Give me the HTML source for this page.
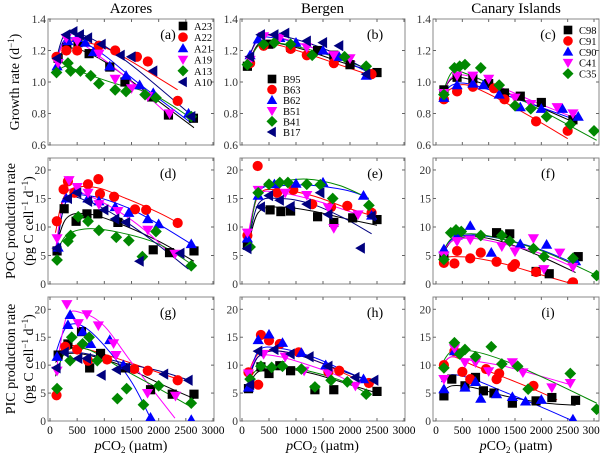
<!DOCTYPE html>
<html><head><meta charset="utf-8">
<style>
html,body{margin:0;padding:0;background:#fff;}
svg{display:block;font-family:"Liberation Serif","DejaVu Serif",serif;}
svg text{font-family:"Liberation Serif","DejaVu Serif",serif;}
</style></head>
<body>
<svg id="chart" width="600" height="457" viewBox="0 0 600 457" xmlns="http://www.w3.org/2000/svg" font-family="Liberation Serif, serif"></svg>
<script>
// ---- data ----
const colTitles = ["Azores","Bergen","Canary Islands"];
const panelLetters = ["(a)","(b)","(c)","(d)","(e)","(f)","(g)","(h)","(i)"];
const xTicks = [0,500,1000,1500,2000,2500,3000];
const yTicksGrowth = [0.6,0.8,1.0,1.2,1.4];
const yTickLabelsGrowth = ["0.6","0.8","1.0","1.2","1.4"];
const yTicksRate = [0,5,10,15,20];
const namesA = ["A23","A22","A21","A19","A13","A10"];
const namesB = ["B95","B63","B62","B51","B41","B17"];
const namesC = ["C98","C91","C90","C41","C35"];

// growth a
const aA23=[[150,1.15],[310,1.22],[515,1.25],[720,1.18],[1100,1.095],[1380,1.0],[1870,0.905],[2180,0.79],[2640,0.77]];
const aA22=[[120,1.16],[300,1.2],[500,1.2],[900,1.23],[1200,1.2],[1600,1.16],[1800,1.13],[2350,0.88]];
const aA21=[[130,1.1],[330,1.26],[500,1.28],[650,1.25],[800,1.19],[1100,1.1],[1400,1.04],[1650,0.98],[1900,0.93],[2550,0.8]];
const aA19=[[150,1.12],[300,1.28],[500,1.26],[900,1.18],[1200,1.02],[1500,0.96],[1800,0.91],[2200,0.8]];
const aA13=[[120,1.06],[330,1.12],[380,1.07],[560,1.07],[750,1.04],[900,0.99],[1200,0.95],[1400,0.94],[1750,0.92],[1950,0.9],[2600,0.78]];
const aA10=[[130,1.15],[300,1.3],[430,1.32],[550,1.3],[700,1.28],[950,1.24],[1300,1.17],[1500,1.16],[1900,1.07],[2600,0.78]];
// growth b
const bB95=[[100,1.1],[500,1.24],[900,1.22],[1400,1.2],[1700,1.17],[2000,1.11],[2500,1.06]];
const bB63=[[150,1.12],[400,1.23],[900,1.21],[1200,1.17],[1700,1.12],[2400,1.05]];
const bB62=[[150,1.17],[300,1.27],[700,1.28],[1000,1.25],[1500,1.2],[1800,1.16],[2300,1.04]];
const bB51=[[150,1.14],[400,1.29],[700,1.28],[1200,1.22],[1700,1.17],[2000,1.15]];
const bB41=[[100,1.11],[400,1.24],[600,1.25],[900,1.24],[1300,1.17],[1900,1.16],[2300,1.1]];
const bB17=[[150,1.16],[350,1.3],[600,1.3],[800,1.31],[1200,1.26],[1500,1.25],[1800,1.23],[2300,1.05]];
// growth c
const cC98=[[150,0.95],[400,1.03],[700,1.02],[1000,0.99],[1300,0.93],[1600,0.91],[2000,0.87],[2600,0.76]];
const cC91=[[150,0.89],[400,0.94],[700,0.97],[1100,0.96],[1300,0.89],[1900,0.75],[2500,0.69]];
const cC90=[[150,0.9],[400,0.98],[700,0.99],[900,0.98],[1200,0.92],[1600,0.84],[2000,0.83],[2400,0.83],[2700,0.78]];
const cC41=[[150,0.93],[400,1.04],[700,1.04],[1000,1.02],[1500,0.9],[1800,0.86],[2300,0.84],[2600,0.8]];
const cC35=[[150,0.92],[350,1.09],[450,1.1],[550,1.11],[850,1.09],[1200,0.98],[1500,0.85],[1800,0.83],[2100,0.78],[2550,0.73],[3000,0.69]];
// POC d
const dA23=[[130,5.8],[260,13.2],[480,11],[680,12.3],[880,12.3],[1250,10.8],[1900,6],[2200,5.5],[2650,5.8]];
const dA22=[[125,11],[250,16.6],[330,18],[450,16],[700,17.5],[890,18.4],[920,15.8],[1180,15.3],[1565,13.1],[1770,13],[2350,10.7]];
const dA21=[[150,6.4],[300,15],[500,16.5],[700,15],[900,14.5],[1200,13.5],[1450,12.5],[1800,11.4],[2000,10.5],[2600,7]];
const dA19=[[130,8],[350,18.2],[500,17],[700,16],[900,14],[1250,12.8],[1800,9.5],[2300,5.3]];
const dA13=[[130,4.2],[330,7.5],[380,8.5],[520,11.8],[700,11],[900,9.4],[1220,8.2],[1450,7.6],[1700,4.8],[1950,9.2],[2600,3.2]];
const dA10=[[130,6.3],[330,15],[500,16],[700,14.5],[1000,13],[1200,11.4],[1400,10.8],[1650,4],[2400,5.4]];
// POC e
const eB95=[[100,6.8],[520,13],[720,12.7],[900,12.8],[1400,11.8],[1700,10.8],[2050,11.6],[2500,11.3]];
const eB63=[[100,8.5],[290,20.7],[650,16],[950,16.5],[1300,14],[1650,13.5],[1950,13.7],[2400,12.5]];
const eB62=[[100,8],[300,15.5],[600,17.5],[1000,17.6],[1500,17.8],[2250,15.5],[2400,12]];
const eB51=[[100,9],[300,16.5],[800,16],[1200,15.6],[1600,13.4],[1700,9.8],[2150,12.2]];
const eB41=[[150,6.5],[300,16],[500,17.5],[700,17.8],[850,17.8],[1200,17.5],[1450,17.4],[1680,15],[2350,13.8]];
const eB17=[[100,6.2],[350,13.5],[500,15.5],[700,14.7],[900,13.6],[1200,14],[1450,16],[1600,12.2],[2200,6.3],[2400,11.9]];
// POC f
const fC98=[[150,4.5],[1150,9],[1400,8.8],[1900,2.2],[2150,1.8],[2700,4.8]];
const fC91=[[150,3.7],[400,5.8],[350,3.6],[650,4.5],[850,5.5],[1150,3.9],[1450,3],[1500,3.5],[1900,2.1],[2600,0.3]];
const fC90=[[150,6.1],[400,8.5],[650,10.2],[1050,5.5],[1600,7],[2100,6.9],[2650,4]];
const fC41=[[150,5],[400,7.5],[650,7.8],[1250,6.6],[1500,5.7],[1850,8],[2050,2.6],[2350,5.5],[2600,3]];
const fC35=[[150,4.3],[280,9],[380,9.5],[480,9.2],[850,8.5],[1250,8.5],[1400,7.5],[1850,6.2],[2050,4.8],[2600,4.5],[3050,1.5]];
// PIC g
const gA23=[[150,11.8],[330,13.8],[580,16],[730,9.5],[930,12.1],[1380,9.5],[1850,5.6],[2250,4.8],[2650,4.8]];
const gA22=[[120,4.6],[280,13.3],[500,12.8],[700,10.8],[1050,11],[1550,9.3],[1800,9],[2350,7.3]];
const gA21=[[130,11.5],[330,17.2],[370,19],[600,16],[750,13.8],[1100,14.5],[1350,10],[1850,0.6],[2600,0.2]];
const gA19=[[130,9],[310,20.9],[520,17.5],[680,19.1],[890,17.1],[1170,13.9],[1215,11.8],[1795,5],[2310,4.5]];
const gA13=[[130,5.8],[370,10.8],[400,15],[600,13.8],[720,15],[870,10.8],[1240,4],[1410,5.8],[1720,2.9],[2000,6.3],[2600,3.2]];
const gA10=[[120,9.5],[270,12.3],[520,11.2],[680,11.2],[950,8.2],[1230,9.2],[1400,9.5],[2100,8.4],[2550,7.3]];
// PIC h
const hB95=[[120,5.8],[350,9.7],[500,8.5],[700,9.9],[900,9],[1350,5.6],[1700,5.6],[2500,5.3]];
const hB63=[[120,8.7],[300,6.5],[350,15.4],[500,14.4],[700,13.8],[1050,12.3],[1600,8.8],[1800,9],[2350,6.8]];
const hB62=[[120,6],[300,14.5],[500,15.5],[750,14],[1100,12.2],[1550,10],[2250,7.5]];
const hB51=[[120,8.5],[400,12],[800,11.5],[1150,9],[1600,8.5],[2100,6.3]];
const hB41=[[150,7.5],[350,9.8],[550,9.6],[750,9.8],[1100,9.3],[1350,6.1],[1650,7.3],[1950,7],[2300,4.8]];
const hB17=[[150,6.5],[300,12.5],[600,12.8],[900,12],[1250,11.5],[1600,9.8],[2100,7.8],[2450,7.3]];
// PIC i
const iC98=[[150,4.5],[300,7.5],[550,6.3],[750,7.8],[900,5.4],[1100,5],[1450,3.2],[1900,3.6],[2200,4.2],[2650,3.7]];
const iC91=[[150,10],[350,12.5],[500,8.8],[650,7.5],[950,9.3],[1150,7.5],[1200,8.5],[1850,6.3]];
const iC90=[[150,5.7],[350,12.5],[550,6],[750,7],[850,4],[1150,4.8],[1450,4.3],[1700,3.5],[2000,3.8],[2600,0.3]];
const iC41=[[150,7.5],[350,13],[550,10.5],[750,10.5],[1000,8.9],[1450,10.5],[1650,8.7],[2200,6],[2550,6.8]];
const iC35=[[150,9.5],[350,14],[450,12],[550,12.8],[750,11.5],[1050,13.3],[1250,10.2],[1550,9.8],[1750,5.7],[2550,8.5],[3050,2.1]];

// fitted curves
const fitA=[[[100,1.1],[250,1.2],[500,1.21],[1000,1.13],[1600,0.98],[2650,0.71]],
 [[100,1.12],[250,1.24],[500,1.26],[1000,1.22],[1500,1.13],[2350,0.95]],
 [[100,1.1],[250,1.26],[500,1.27],[1000,1.17],[1600,1.0],[2600,0.74]],
 [[100,1.1],[250,1.25],[500,1.26],[1000,1.14],[1500,1.0],[2250,0.77]],
 [[100,1.06],[300,1.1],[600,1.06],[1200,0.99],[1900,0.92],[2600,0.77]],
 [[100,1.12],[250,1.29],[500,1.31],[1000,1.23],[1600,1.08],[2600,0.79]]];
const fitB=[[[100,1.1],[300,1.24],[600,1.25],[1200,1.2],[1800,1.13],[2500,1.06]],
 [[100,1.1],[300,1.23],[600,1.24],[1200,1.18],[1800,1.11],[2400,1.04]],
 [[100,1.13],[300,1.27],[600,1.28],[1200,1.23],[1800,1.15],[2350,1.06]],
 [[100,1.12],[300,1.28],[600,1.29],[1200,1.23],[1800,1.16],[2100,1.13]],
 [[100,1.1],[300,1.23],[600,1.25],[1200,1.21],[1800,1.15],[2350,1.08]],
 [[100,1.13],[300,1.28],[600,1.3],[1200,1.25],[1800,1.17],[2350,1.07]]];
const fitC=[[[100,0.92],[300,1.02],[600,1.02],[1200,0.95],[1900,0.85],[2650,0.74]],
 [[100,0.9],[300,0.96],[600,0.98],[1200,0.89],[1900,0.76],[2500,0.64]],
 [[100,0.91],[300,0.98],[600,0.99],[1200,0.93],[1900,0.85],[2650,0.76]],
 [[100,0.92],[300,1.03],[600,1.04],[1200,0.97],[1900,0.87],[2650,0.77]],
 [[100,0.9],[300,1.06],[600,1.05],[1200,0.96],[2000,0.82],[3050,0.63]]];
const fitD=[[[100,6],[300,11.5],[700,12.3],[1300,10.5],[2000,7.5],[2650,4]],
 [[100,9],[300,16],[800,17],[1400,15],[2000,12.5],[2400,10.5]],
 [[100,5],[300,14.5],[700,15.5],[1400,13.5],[2000,10.5],[2600,7]],
 [[100,6],[300,16],[700,15.5],[1300,12.5],[1800,9],[2300,4.5]],
 [[100,5],[300,8.5],[700,9.7],[1300,9],[2000,7],[2600,3.5]],
 [[100,5],[300,14.5],[700,14.5],[1300,11.5],[1900,7.5],[2550,2.6]]];
const fitE=[[[100,6],[300,12.5],[700,13.5],[1300,12.8],[1900,11.5],[2500,10.3]],
 [[100,7],[300,15.5],[700,16.5],[1300,15.5],[1900,13.5],[2400,12]],
 [[100,7],[300,16],[700,17.2],[1300,17.3],[1900,16.5],[2250,15.5]],
 [[100,8],[300,15.5],[700,16],[1300,14.8],[1900,13],[2200,12]],
 [[100,6],[300,16],[700,17.8],[1200,18.4],[1800,17.3],[2350,15]],
 [[100,6],[300,14],[700,15],[1300,14],[1900,11.5],[2400,8.8]]];
const fitF=[[[100,4.5],[300,7.5],[700,8.3],[1300,7.3],[2000,4.8],[2650,2]],
 [[100,4.5],[300,4.8],[700,4.6],[1300,3.5],[2000,1.6],[2600,0]],
 [[100,5],[300,7.8],[700,8.6],[1300,7.8],[2000,6],[2650,3.5]],
 [[100,5],[300,7.5],[700,8],[1300,7],[2000,5.3],[2600,3]],
 [[100,5],[300,8],[700,8.8],[1300,7.8],[2100,5.5],[3050,1.5]]];
const fitG=[[[100,10.5],[300,12],[700,11.8],[1300,10],[2000,6.8],[2650,4]],
 [[100,11],[300,13.5],[700,12.8],[1300,11],[1900,9],[2350,7.5]],
 [[100,12],[300,16.8],[600,17],[1000,13.5],[1500,7],[1850,0.5]],
 [[100,8],[300,18.5],[600,19.3],[1000,17],[1500,10.5],[2300,0.5]],
 [[100,8],[300,12.5],[700,12.8],[1300,9.5],[2000,5.8],[2600,2.5]],
 [[100,11.5],[300,12.3],[700,12],[1300,10.5],[2000,9],[2500,7.5]]];
const fitH=[[[100,6],[300,8.8],[700,9.5],[1300,8.5],[1900,6.8],[2500,5]],
 [[100,8],[300,12],[700,12.5],[1300,11],[1900,8.5],[2350,6.5]],
 [[100,6],[300,12.5],[700,13],[1300,11.5],[1900,9],[2250,7.5]],
 [[100,8],[300,11.5],[700,11.5],[1300,9.8],[1800,8],[2100,6.3]],
 [[100,7],[300,9.3],[700,9.8],[1300,8.8],[1900,7],[2300,5]],
 [[100,6.5],[300,11.5],[700,12.5],[1300,11],[1900,8.8],[2450,7]]];
const fitI=[[[100,5],[300,6.3],[700,6],[1300,4.5],[2000,3.3],[2650,2.8]],
 [[100,9.5],[300,11.5],[700,10],[1300,7.8],[1900,5.5],[2300,3.8]],
 [[100,7],[300,8.3],[700,7.5],[1300,5.2],[2000,2.5],[2600,0]],
 [[100,10],[300,11.5],[700,10.8],[1300,9.8],[2000,8],[2550,6.5]],
 [[100,10],[300,12.5],[700,12.5],[1300,10.8],[2100,7.5],[3050,3.2]]];

// ---- layout ----
const colBox=[{x0:48,x1:214,ox:50,ex:213},{x0:240,x1:405,ox:242,ex:404},{x0:433,x1:599,ox:436,ex:594}];
const rowBox=[{y0:19,y1:145,lo:0.6,hi:1.4},{y0:158,y1:284,lo:0,hi:22.1},{y0:297,y1:421,lo:0,hi:22.2}];
const styles=[{m:"square",c:"#000"},{m:"circle",c:"#f00"},{m:"up",c:"#00f"},{m:"down",c:"#f0f"},{m:"diamond",c:"#080"},{m:"left",c:"#00007f"}];
const panelSeries=[[aA23,aA22,aA21,aA19,aA13,aA10],[bB95,bB63,bB62,bB51,bB41,bB17],[cC98,cC91,cC90,cC41,cC35],
 [dA23,dA22,dA21,dA19,dA13,dA10],[eB95,eB63,eB62,eB51,eB41,eB17],[fC98,fC91,fC90,fC41,fC35],
 [gA23,gA22,gA21,gA19,gA13,gA10],[hB95,hB63,hB62,hB51,hB41,hB17],[iC98,iC91,iC90,iC41,iC35]];
const panelFits=[fitA,fitB,fitC,fitD,fitE,fitF,fitG,fitH,fitI];
const NS="http://www.w3.org/2000/svg";
const FONT='"Liberation Serif", "DejaVu Serif", serif';
const svg=document.getElementById("chart");
function el(t,a,p){const e=document.createElementNS(NS,t);for(const k in a)e.setAttribute(k,a[k]);if(t==="text")e.style.fontFamily=FONT;(p||svg).appendChild(e);return e;}
function markerPath(m,x,y,r){
 if(m==="square")return `M${x-r*0.9},${y-r*0.9}h${1.8*r}v${1.8*r}h${-1.8*r}Z`;
 if(m==="up")return `M${x},${y-r*1.1}L${x+r*1.1},${y+r*0.8}L${x-r*1.1},${y+r*0.8}Z`;
 if(m==="down")return `M${x},${y+r*1.1}L${x+r*1.1},${y-r*0.8}L${x-r*1.1},${y-r*0.8}Z`;
 if(m==="diamond")return `M${x},${y-r*1.15}L${x+r*1.15},${y}L${x},${y+r*1.15}L${x-r*1.15},${y}Z`;
 if(m==="left")return `M${x-r*1.1},${y}L${x+r*0.8},${y-r*1.1}L${x+r*0.8},${y+r*1.1}Z`;
 return "";
}
function drawMarker(g,m,c,x,y,r){
 let e;
 if(m==="circle")e=el("circle",{cx:x,cy:y,r:r,fill:c},g);
 else e=el("path",{d:markerPath(m,x,y,r),fill:c},g);
 return e;
}
function smoothPath(pts){
 let d=`M${pts[0][0]},${pts[0][1]}`;
 for(let i=0;i<pts.length-1;i++){
  const p0=pts[i-1]||pts[i],p1=pts[i],p2=pts[i+1],p3=pts[i+2]||p2;
  d+=` C${p1[0]+(p2[0]-p0[0])/6},${p1[1]+(p2[1]-p0[1])/6} ${p2[0]-(p3[0]-p1[0])/6},${p2[1]-(p3[1]-p1[1])/6} ${p2[0]},${p2[1]}`;
 }
 return d;
}
colTitles.forEach((t,i)=>{
 const e=el("text",{x:(colBox[i].x0+colBox[i].x1)/2,y:13,"text-anchor":"middle","font-size":"15"});
 e.textContent=t;
 
 
});
for(let r=0;r<3;r++)for(let c=0;c<3;c++){
 const k=r*3+c,cb=colBox[c],rb=rowBox[r];
 const sx=v=>cb.ox+(v/3000)*(cb.ex-cb.ox);
 const sy=v=>rb.y1-(v-rb.lo)/(rb.hi-rb.lo)*(rb.y1-rb.y0);
 const g=el("g",{});
 
 
 const clipId="clip"+k;
 const cp=el("clipPath",{id:clipId},g);el("rect",{x:cb.x0,y:rb.y0,width:cb.x1-cb.x0,height:rb.y1-rb.y0},cp);
 const frame=el("rect",{x:cb.x0,y:rb.y0,width:cb.x1-cb.x0,height:rb.y1-rb.y0,fill:"none",stroke:"#888","stroke-width":"1"},g);
 
 
 xTicks.forEach(v=>{
  const x=sx(v);if(x>cb.x1)return;
  el("line",{x1:x,x2:x,y1:rb.y1,y2:rb.y1-3,stroke:"#666"},g);
  el("line",{x1:x,x2:x,y1:rb.y0,y2:rb.y0+3,stroke:"#666"},g);
  if(r===2){const t=el("text",{x:x,y:rb.y1+13,"text-anchor":"middle","font-size":"11.5"},g);t.textContent=String(v);
   
   }
 });
 const yt=r===0?yTicksGrowth:yTicksRate;
 yt.forEach((v,j)=>{
  const y=sy(v);
  el("line",{x1:cb.x0,x2:cb.x0+3,y1:y,y2:y,stroke:"#666"},g);
  el("line",{x1:cb.x1,x2:cb.x1-3,y1:y,y2:y,stroke:"#666"},g);
  const t=el("text",{x:cb.x0-2,y:y+4,"text-anchor":"end","font-size":"11.5",fill:"#333"},g);
  t.textContent=r===0?yTickLabelsGrowth[j]:String(v);
  
  
 });
 const pg=el("g",{"clip-path":`url(#${clipId})`},g);
 panelFits[k].forEach((f,s)=>{
  const p=el("path",{d:smoothPath(f.map(q=>[sx(q[0]),sy(q[1])])),fill:"none",stroke:styles[s].c,"stroke-width":"1"},pg);
  
  
 });
 panelSeries[k].forEach((ser,s)=>{
  ser.forEach(q=>{
   const m=drawMarker(pg,styles[s].m,styles[s].c,sx(q[0]),sy(q[1]),5.1);
   
   
  });
 });
 const lt=el("text",{x:[168,375,548][c],y:[39,178,317][r],"text-anchor":"middle","font-size":"14"},g);
 lt.textContent=panelLetters[k];
 
 
}
function legend(names,mx,ys){
 const g=el("g",{});
 
 
 names.forEach((n,i)=>{
  const m=drawMarker(g,styles[i].m,styles[i].c,mx,ys[0]+i*ys[1],4.8);
  
  
  const t=el("text",{x:mx+11,y:ys[0]+i*ys[1]+4,"font-size":"10.5"},g);
  t.textContent=n;
  
  
 });
}
legend(namesA,183,[26,11.2]);
legend(namesB,272,[79,10.6]);
legend(namesC,568,[30,10.9]);
function vt(lines,xs,cy,nm){
 lines.forEach((l,i)=>{
  const t=el("text",{x:xs[i],y:cy,transform:`rotate(-90 ${xs[i]} ${cy})`,"text-anchor":"middle","font-size":"14"});
  t.innerHTML=l;
  
  
 });
}
vt(['Growth rate (d<tspan font-size="9" dy="-5">−1</tspan><tspan dy="5">)</tspan>'],[19],82,'y-axis-title-growth');
vt(['POC production rate','(pg C cell<tspan font-size="9" dy="-5">−1</tspan><tspan dy="5"> d</tspan><tspan font-size="9" dy="-5">−1</tspan><tspan dy="5">)</tspan>'],[15,33],221,'y-axis-title-poc');
vt(['PIC production rate','(pg C cell<tspan font-size="9" dy="-5">−1</tspan><tspan dy="5"> d</tspan><tspan font-size="9" dy="-5">−1</tspan><tspan dy="5">)</tspan>'],[15,33],359,'y-axis-title-pic');
colBox.forEach(cb=>{
 const t=el("text",{x:(cb.x0+cb.x1)/2,y:450,"text-anchor":"middle","font-size":"14"});
 t.innerHTML='<tspan font-style="italic">p</tspan>CO<tspan font-size="9" dy="3">2</tspan><tspan dy="-3"> (µatm)</tspan>';
 
 
});
</script>
</body></html>
